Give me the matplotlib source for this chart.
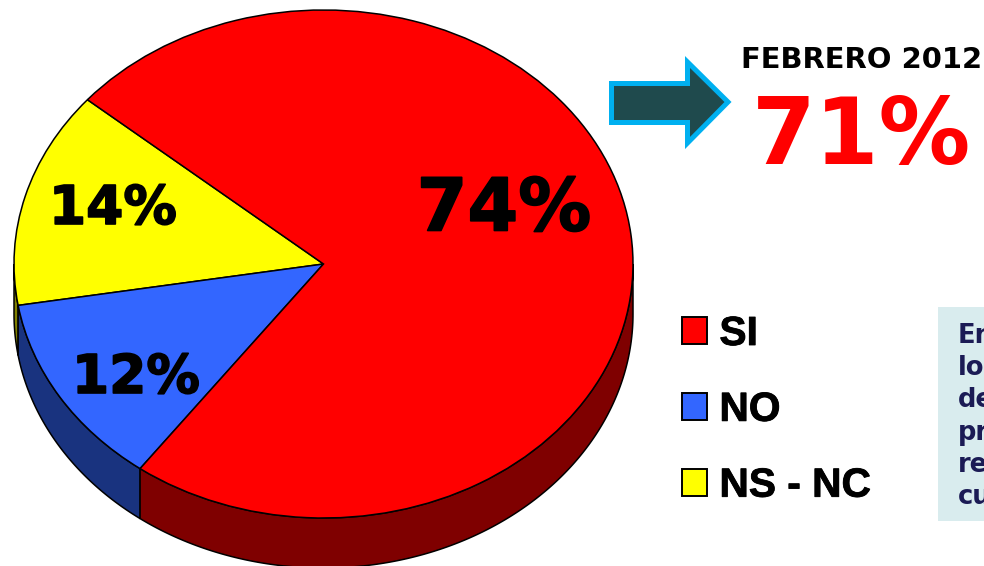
import numpy as np
import matplotlib
matplotlib.use('Agg')
import matplotlib.pyplot as plt
import matplotlib.patheffects as pe
from matplotlib.patches import Polygon, Rectangle

labels = ['NS - NC', 'NO', 'SI']
values = [13.8, 12.3, 73.9]
value_labels = ['14%', '12%', '74%']
face_colors = ['#ffff00', '#3366ff', '#ff0000']
side_colors = ['#808000', '#19337f', '#7f0000']
title_text = 'FEBRERO 2012'
big_value = '71%'
note_lines = ['En', 'lo', 'de', 'pr', 're', 'cu']

W, H = 984, 566
fig = plt.figure(figsize=(W / 100, H / 100), dpi=100, facecolor='white')

# page layer in pixel coordinates
bg = fig.add_axes([0, 0, 1, 1], zorder=3)
bg.set_xlim(0, W)
bg.set_ylim(H, 0)
bg.axis('off')
bg.patch.set_alpha(0)

# pie squashed to an ellipse, left 14 to 633, top 10 to 518
left, right, top, bottom = 14, 633, 10, 518
ax = fig.add_axes([left / W, 1 - bottom / H, (right - left) / W, (bottom - top) / H], zorder=1)
start = 139.7
wedges, _ = ax.pie(values, startangle=start, colors=face_colors, radius=1,
                   wedgeprops={'edgecolor': 'black', 'linewidth': 1.1, 'zorder': 5})
ax.set_aspect('auto')
ax.set_xlim(-1, 1)
ax.set_ylim(-1, 1)

# rim below the top face
depth = 50 / ((bottom - top) / 2)
a0 = start
for v, c in zip(values, side_colors):
    a1 = a0 + v * 3.6
    for shift in (0, 360):
        lo = max(a0, 180 + shift)
        hi = min(a1, 360 + shift)
        if hi > lo:
            t = np.radians(np.linspace(lo, hi, 200))
            x, y = np.cos(t), np.sin(t)
            pts = np.column_stack([np.r_[x, x[::-1]], np.r_[y, y[::-1] - depth]])
            ax.add_patch(Polygon(pts, closed=True, facecolor=c, edgecolor='black',
                                 linewidth=1.1, zorder=2, clip_on=False))
    a0 = a1

# value labels on the pie, thickened like the heavy original face
heavy = [pe.withStroke(linewidth=1.2, foreground='black')]
bg.text(113, 209, value_labels[0], fontsize=38.5, fontweight='bold', family='DejaVu Sans',
        ha='center', va='center', color='black', path_effects=heavy)
bg.text(136, 378, value_labels[1], fontsize=38.5, fontweight='bold', family='DejaVu Sans',
        ha='center', va='center', color='black', path_effects=heavy)
bg.text(504, 210, value_labels[2], fontsize=52.5, fontweight='bold', family='DejaVu Sans',
        ha='center', va='center', color='black', path_effects=heavy)

# arrow
arrow = [(611.5, 83.5), (687.5, 83.5), (687.5, 62), (728, 102), (687.5, 143), (687.5, 122.5), (611.5, 122.5)]
bg.add_patch(Polygon(arrow, closed=True, facecolor='#1f4a4d', edgecolor='#00b0f0',
                     linewidth=3.6, joinstyle='miter'))

bg.text(861.5, 60, title_text, fontsize=20.9, fontweight='bold', family='DejaVu Sans',
        ha='center', va='center', color='black')
bg.text(861, 138, big_value, fontsize=66, fontweight='bold', family='DejaVu Sans',
        ha='center', va='center', color='#ff0000')

# legend
leg = bg.legend([wedges[2], wedges[1], wedges[0]], [labels[2], labels[1], labels[0]],
                loc='upper left', bbox_to_anchor=(682 / W, 1 - 315 / H),
                bbox_transform=fig.transFigure, frameon=False, handlelength=0.62,
                handleheight=0.62, handletextpad=0.3, labelspacing=0.93, borderpad=0,
                borderaxespad=0, prop={'family': 'Liberation Sans', 'weight': 'bold', 'size': 29.3})
for h in leg.get_patches():
    h.set_linewidth(1.4)
for t in leg.get_texts():
    t.set_path_effects([pe.withStroke(linewidth=0.6, foreground='black')])

# note box, cut off by the page edge
bg.add_patch(Rectangle((938, 307), 46, 214, facecolor='#d9ecee', edgecolor='none'))
for i, line in enumerate(note_lines):
    bg.text(958, 336 + i * 32.2, line, fontsize=18.5, fontweight='bold', family='DejaVu Sans',
            ha='left', va='center', color='#1b1b55', clip_on=True)

fig.savefig('out.png', dpi=100)
